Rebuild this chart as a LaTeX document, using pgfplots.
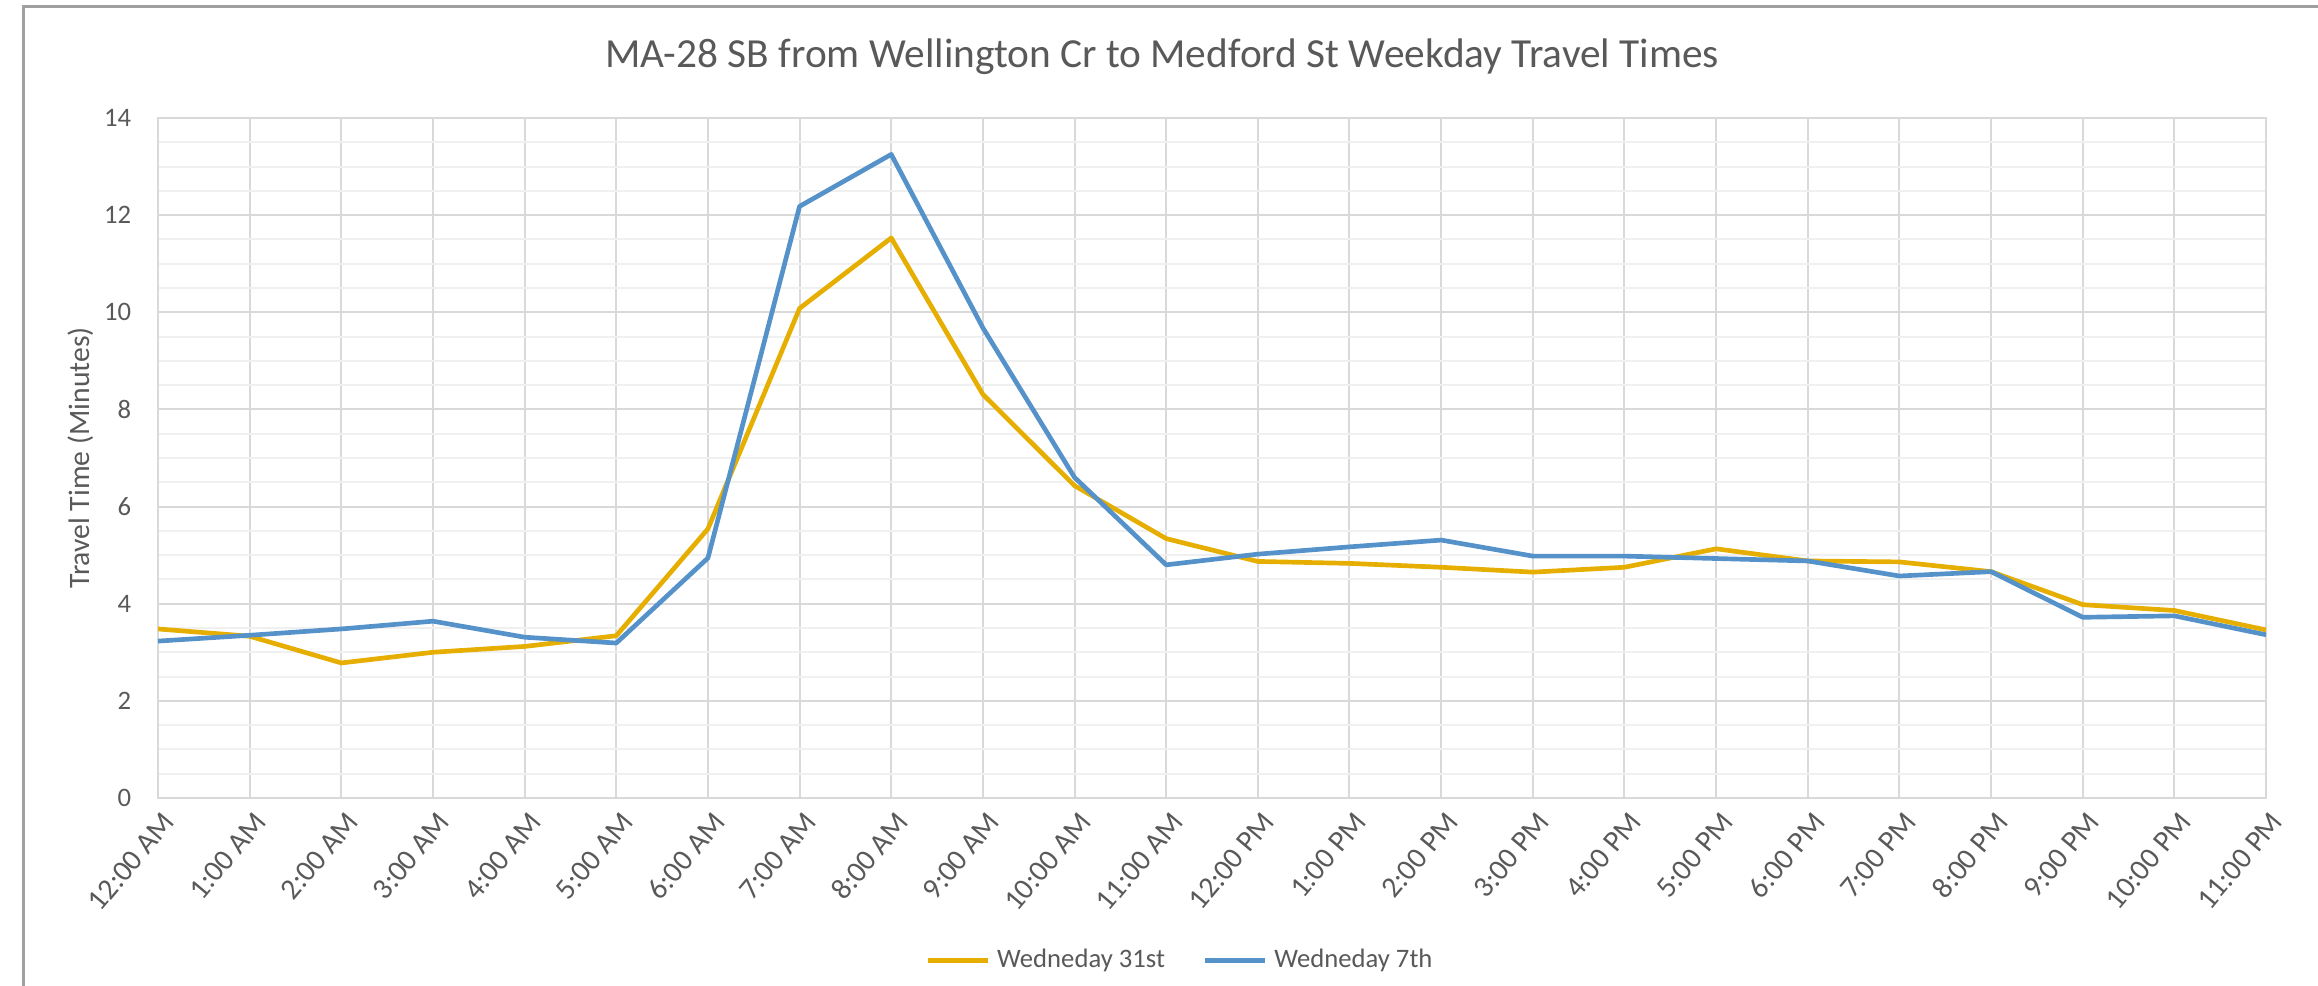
\documentclass[border=0pt]{standalone}
\usepackage{pgfplots}
\pgfplotsset{compat=1.18}
\usepackage{pgfplotstable}
\usepackage{fontspec}
\setmainfont{Carlito}
\definecolor{gold}{HTML}{E5AE00}
\definecolor{sblue}{HTML}{5592CA}
\definecolor{txt}{HTML}{595959}
\definecolor{gridc}{HTML}{D9D9D9}
\definecolor{mgridc}{HTML}{F0F0F0}
\definecolor{framec}{HTML}{A0A0A0}

\pgfplotstableread{
x yellow blue
0 3.48 3.23
1 3.33 3.35
2 2.78 3.48
3 3.00 3.64
4 3.12 3.31
5 3.34 3.19
6 5.54 4.94
7 10.08 12.18
8 11.53 13.25
9 8.31 9.68
10 6.43 6.60
11 5.34 4.80
12 4.87 5.02
13 4.83 5.17
14 4.75 5.31
15 4.65 4.98
16 4.75 4.98
17 5.13 4.93
18 4.88 4.88
19 4.86 4.57
20 4.66 4.66
21 3.98 3.72
22 3.86 3.75
23 3.46 3.36
}\datatable

\begin{document}
\begin{tikzpicture}
\begin{axis}[
  at={(47.4pt,56.4pt)}, anchor=south west,
  scale only axis, width=632.4pt, height=204pt,
  xmin=0, xmax=23, ymin=0, ymax=14,
  xtick={0,...,23},
  xticklabels={12:00 AM,1:00 AM,2:00 AM,3:00 AM,4:00 AM,5:00 AM,6:00 AM,7:00 AM,8:00 AM,9:00 AM,10:00 AM,11:00 AM,12:00 PM,1:00 PM,2:00 PM,3:00 PM,4:00 PM,5:00 PM,6:00 PM,7:00 PM,8:00 PM,9:00 PM,10:00 PM,11:00 PM},
  ytick={0,2,...,14},
  minor y tick num=3,
  grid=both,
  major grid style={draw=gridc, line width=0.6pt},
  minor grid style={draw=mgridc, line width=0.6pt},
  axis line style={draw=gridc, line width=0.6pt},
  tick style={draw=none},
  /pgf/number format/assume math mode=true,
  yticklabel style={font=\fontsize{8}{9}\selectfont, text=txt, xshift=-4.5pt},
  xticklabel style={font=\fontsize{8.9}{10}\selectfont, text=txt, rotate=50, anchor=north east, inner sep=1pt, yshift=-2pt, xshift=-1pt},
  title={MA-28 SB from Wellington Cr to Medford St Weekday Travel Times},
  title style={at={(0.4763,1)}, anchor=center, yshift=12.5pt, font=\fontsize{12.4}{14}\selectfont, text=txt},
  ylabel={Travel Time (Minutes)},
  ylabel style={at={(axis description cs:-0.0365,0.5)}, anchor=center, font=\fontsize{8.9}{10}\selectfont, text=txt},
  legend style={at={(0.486,0)}, anchor=center, yshift=-48.8pt, draw=none, fill=none,
    legend columns=2, font=\fontsize{8}{9}\selectfont, text=txt,
    /tikz/every even column/.append style={column sep=9.4pt}},
  legend cell align=left,
  legend image code/.code={\draw[#1] (0pt,0pt) -- (18pt,0pt);},
]
\addplot[gold, line width=1.4pt, line join=round] table[x=x, y=yellow] {\datatable};
\addlegendentry{Wedneday 31st}
\addplot[sblue, line width=1.4pt, line join=round] table[x=x, y=blue] {\datatable};
\addlegendentry{Wedneday 7th}
\end{axis}
\draw[framec, line width=0.9pt] (6.9pt,0pt) -- (6.9pt,293.7pt) -- (695.4pt,293.7pt);
\pgfresetboundingbox
\useasboundingbox (0pt,0pt) rectangle (695.4pt,295.8pt);
\end{tikzpicture}
\end{document}
